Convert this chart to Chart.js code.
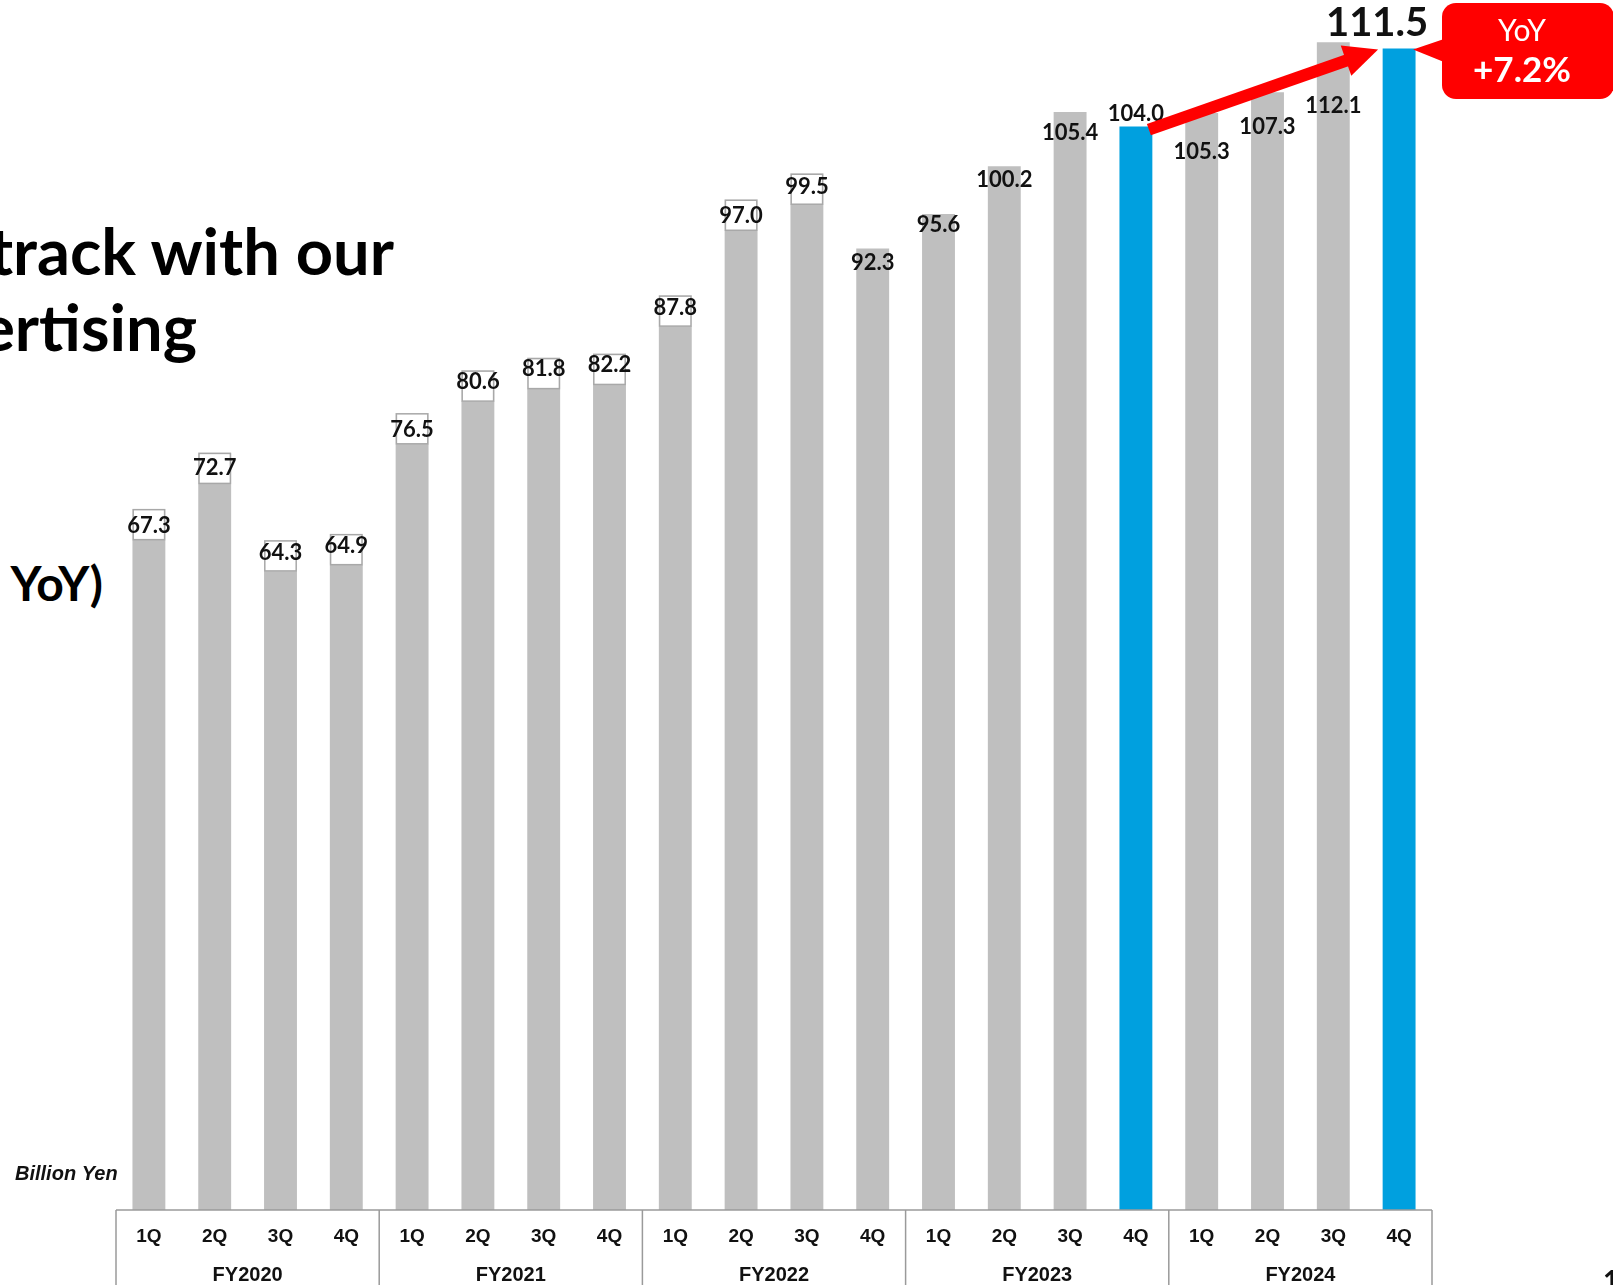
<!DOCTYPE html>
<html>
<head>
<meta charset="utf-8">
<script src="https://cdn.jsdelivr.net/npm/chart.js@4.4.1/dist/chart.umd.min.js"></script>
<style>
    html, body { margin: 0; padding: 0; background: #fff; overflow: hidden; }
    #wrap { position: relative; width: 1613px; height: 1285px; }
    #revChart { position: absolute; left: 0; top: 0; }
    .headline {
        position: absolute;
        font-family: Lato, "Noto Sans", sans-serif;
        font-weight: 700;
        color: #000;
        white-space: nowrap;
        text-align: right;
    }
</style>
</head>
<body>
<div id="wrap">
    <div class="headline" style="right:1219px; top:210px; font-size:65px; line-height:80px;">track with our</div>
    <div class="headline" style="right:1416px; top:286px; font-size:65px; line-height:80px;">ertising</div>
    <div class="headline" style="right:1510px; top:548px; font-size:48px; line-height:70px;">YoY)</div>
    <canvas id="revChart" width="1613" height="1285"></canvas>
</div>
<script>
// Quarterly revenue, billion yen
const fiscalYears = ['FY2020', 'FY2021', 'FY2022', 'FY2023', 'FY2024'];
const quarters = ['1Q', '2Q', '3Q', '4Q'];
const revenue = [
    67.3, 72.7, 64.3, 64.9,
    76.5, 80.6, 81.8, 82.2,
    87.8, 97.0, 99.5, 92.3,
    95.6, 100.2, 105.4, 104.0,
    105.3, 107.3, 112.1, 111.5
];
const highlighted = [15, 19];   // 4Q bars compared year on year

// label placement: px from bar top to text centre, and whether a white box sits behind it
const labelDrop = [17, 15, 13, 12, 17, 12, 11, 11, 13, 16, 13, 14, 11, 14, 21, -13, 39, 35, 64, 0];
const labelBoxed = [1, 1, 1, 1, 1, 1, 1, 1, 1, 1, 1, 0, 0, 0, 0, 0, 0, 0, 0, 0];

const GRAY = '#bfbfbf';
const BLUE = '#00a0df';
const RED = '#ff0000';

const categories = [];
fiscalYears.forEach(fy => quarters.forEach(q => categories.push(fy + ' ' + q)));

const yoy = ((revenue[19] / revenue[15] - 1) * 100).toFixed(1);

const annotations = {
    id: 'annotations',
    afterDatasetsDraw(chart) {
        const ctx = chart.ctx;
        const meta = chart.getDatasetMeta(0);
        const ys = chart.scales.y;
        ctx.save();
        ctx.textAlign = 'center';
        ctx.textBaseline = 'middle';

        // value labels
        meta.data.forEach((bar, i) => {
            if (i === 19) return;
            const top = ys.getPixelForValue(revenue[i]);
            const w = bar.width;
            if (labelBoxed[i]) {
                ctx.fillStyle = '#fff';
                ctx.strokeStyle = '#a8a8a8';
                ctx.lineWidth = 1.5;
                ctx.fillRect(bar.x - w / 2, top, w, 31);
                ctx.strokeRect(bar.x - w / 2 + 0.75, top + 0.75, w - 1.5, 30);
            }
            ctx.fillStyle = '#111';
            ctx.font = '700 22px Lato, sans-serif';
            ctx.fillText(revenue[i].toFixed(1), bar.x, top + labelDrop[i]);
        });

        // latest quarter, large
        const last = meta.data[19];
        const lastTop = ys.getPixelForValue(revenue[19]);
        ctx.fillStyle = '#111';
        ctx.font = '700 40px Lato, sans-serif';
        ctx.textBaseline = 'alphabetic';
        ctx.fillText(revenue[19].toFixed(1), last.x - 22, 36);

        // arrow from last year's 4Q to this year's 4Q
        const prev = meta.data[15];
        const x0 = prev.x + 13, y0 = ys.getPixelForValue(revenue[15]) + 3;
        const x1 = last.x - 21, y1 = lastTop + 1;
        const ang = Math.atan2(y1 - y0, x1 - x0);
        const headLen = 34, headHalf = 16;
        const bx = x1 - headLen * Math.cos(ang), by = y1 - headLen * Math.sin(ang);
        ctx.strokeStyle = RED;
        ctx.lineWidth = 12;
        ctx.beginPath();
        ctx.moveTo(x0, y0);
        ctx.lineTo(bx + 2 * Math.cos(ang), by + 2 * Math.sin(ang));
        ctx.stroke();
        ctx.fillStyle = RED;
        ctx.beginPath();
        ctx.moveTo(x1, y1);
        ctx.lineTo(bx - headHalf * Math.sin(ang), by + headHalf * Math.cos(ang));
        ctx.lineTo(bx + headHalf * Math.sin(ang), by - headHalf * Math.cos(ang));
        ctx.closePath();
        ctx.fill();

        // YoY callout
        const cx = 1442, cy = 3, cw = 172, ch = 96;
        ctx.beginPath();
        ctx.roundRect(cx, cy, cw, ch, 14);
        ctx.fill();
        ctx.beginPath();
        ctx.moveTo(cx + 2, 39);
        ctx.lineTo(last.x + 14, lastTop + 1);
        ctx.lineTo(cx + 2, 62);
        ctx.closePath();
        ctx.fill();
        ctx.fillStyle = '#fff';
        ctx.textBaseline = 'middle';
        ctx.font = '400 30px Lato, sans-serif';
        ctx.fillText('YoY', 1522, 31);
        ctx.font = '700 35px Lato, sans-serif';
        ctx.fillText('+' + yoy + '%', 1522, 71);
        ctx.restore();
    },
    afterDraw(chart) {
        const ctx = chart.ctx;
        const area = chart.chartArea;
        const xs = chart.scales.x;
        const step = (area.right - area.left) / revenue.length;
        ctx.save();
        ctx.strokeStyle = '#9a9a9a';
        ctx.lineWidth = 1.5;
        ctx.beginPath();
        ctx.moveTo(area.left, area.bottom);
        ctx.lineTo(area.right, area.bottom);
        for (let g = 0; g <= fiscalYears.length; g++) {
            const gx = area.left + g * quarters.length * step;
            ctx.moveTo(gx, area.bottom);
            ctx.lineTo(gx, chart.height);
        }
        ctx.stroke();

        ctx.fillStyle = '#111';
        ctx.textAlign = 'center';
        ctx.textBaseline = 'middle';
        ctx.font = '700 19px "Liberation Sans", Arial, sans-serif';
        categories.forEach((c, i) => {
            ctx.fillText(quarters[i % 4], xs.getPixelForValue(i), area.bottom + 27);
        });
        ctx.font = '700 20px "Liberation Sans", Arial, sans-serif';
        fiscalYears.forEach((fy, g) => {
            const mid = area.left + (g * 4 + 2) * step;
            ctx.fillText(fy, mid, area.bottom + 65);
        });

        ctx.textAlign = 'left';
        ctx.textBaseline = 'alphabetic';
        ctx.font = 'italic 700 20px "Liberation Sans", Arial, sans-serif';
        ctx.fillText('Billion Yen', 15, 1180);
        ctx.font = '700 28px Lato, sans-serif';
        ctx.fillText('1', 1603, 1291);
        ctx.restore();
    }
};

document.addEventListener('DOMContentLoaded', function () {
    const ctx = document.getElementById('revChart').getContext('2d');
    new Chart(ctx, {
        type: 'bar',
        data: {
            labels: categories,
            datasets: [{
                data: revenue,
                backgroundColor: revenue.map((v, i) => highlighted.includes(i) ? BLUE : GRAY),
                borderWidth: 0,
                categoryPercentage: 1,
                barPercentage: 0.5
            }]
        },
        options: {
            responsive: false,
            animation: false,
            layout: {
                padding: { left: 116, right: 181, top: 12, bottom: 75 }
            },
            scales: {
                x: { display: false },
                y: { display: false, min: 0, max: 115 }
            },
            plugins: {
                legend: { display: false },
                title: { display: false },
                tooltip: { enabled: false }
            }
        },
        plugins: [annotations]
    });
});
</script>
</body>
</html>
